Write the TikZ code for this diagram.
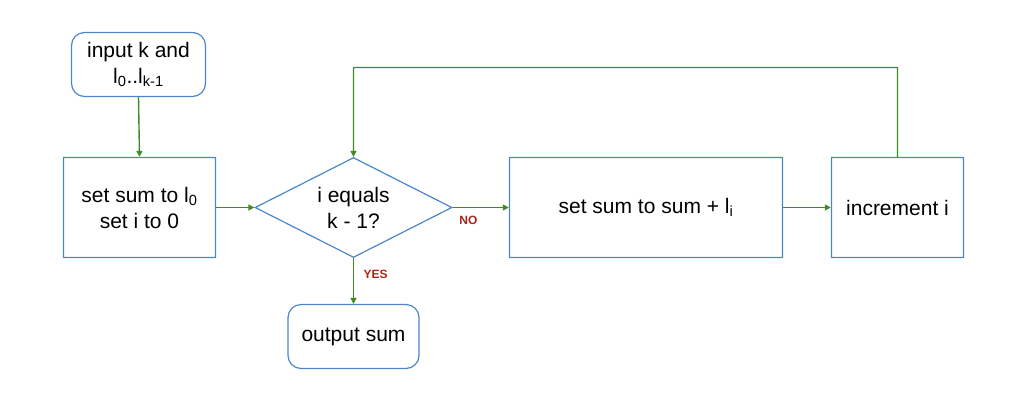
\documentclass[tikz,border=0pt]{standalone}
\usepackage{fontspec}
\setmainfont{Liberation Sans}
\usetikzlibrary{shapes.geometric,arrows.meta}
\definecolor{boxblue}{HTML}{4A86C8}
\definecolor{arrgreen}{HTML}{438A24}
\definecolor{lblred}{HTML}{A8271C}
\tikzset{
  every node/.style={font=\fontsize{21}{26}\selectfont, align=center, text=black},
  procbox/.style={draw=boxblue, line width=1.4pt, rectangle, rounded corners=0.3pt, inner sep=0pt},
  termbox/.style={draw=boxblue, line width=1.2pt, rectangle, rounded corners=13pt, inner sep=0pt},
  decbox/.style={draw=boxblue, line width=1.2pt, diamond, inner sep=0pt, aspect=2,
    minimum width=197pt, minimum height=100pt},
  flow/.style={draw=arrgreen, line width=1.4pt, rounded corners=0.3pt, -{Triangle[width=6pt,length=6pt]}},
  lbl/.style={font=\fontsize{12}{14}\selectfont\bfseries, text=lblred}
}
\begin{document}
\begin{tikzpicture}[x=1pt,y=-1pt]
\useasboundingbox (0,0) rectangle (1024,400);
\node[termbox, minimum width=134pt, minimum height=64pt] (inp) at (138.5,64.5) {input k and\\l\textsubscript{0}..l\textsubscript{k-1}};
\node[procbox, minimum width=152pt, minimum height=100pt] (init) at (139.5,207.5) {set sum to l\textsubscript{0}\\set i to 0};
\node[decbox] (dec) at (353.5,207.5) {i equals\\k - 1?};
\node[termbox, minimum width=131pt, minimum height=64pt] (out) at (353.5,336.5) {output sum};
\node[procbox, minimum width=273pt, minimum height=100pt] (add) at (646,207.5) {set sum to sum + l\textsubscript{i}};
\node[procbox, minimum width=132pt, minimum height=100pt] (inc) at (897.5,207.5) {increment i};
\coordinate (tr) at (897.5,67.5);
\coordinate (tl) at (353.5,67.5);
\draw[flow] (inp.south) -- (init.north);
\draw[flow] (init.east) -- (dec.west);
\draw[flow] (dec.east) -- node[lbl, below=5pt, pos=0.28] {NO} (add.west);
\draw[flow] (dec.south) -- node[lbl, right=6pt, pos=0.35] {YES} (out.north);
\draw[flow] (add.east) -- (inc.west);
\draw[flow] (inc.north) -- (tr) -- (tl) -- (dec.north);
\end{tikzpicture}
\end{document}
